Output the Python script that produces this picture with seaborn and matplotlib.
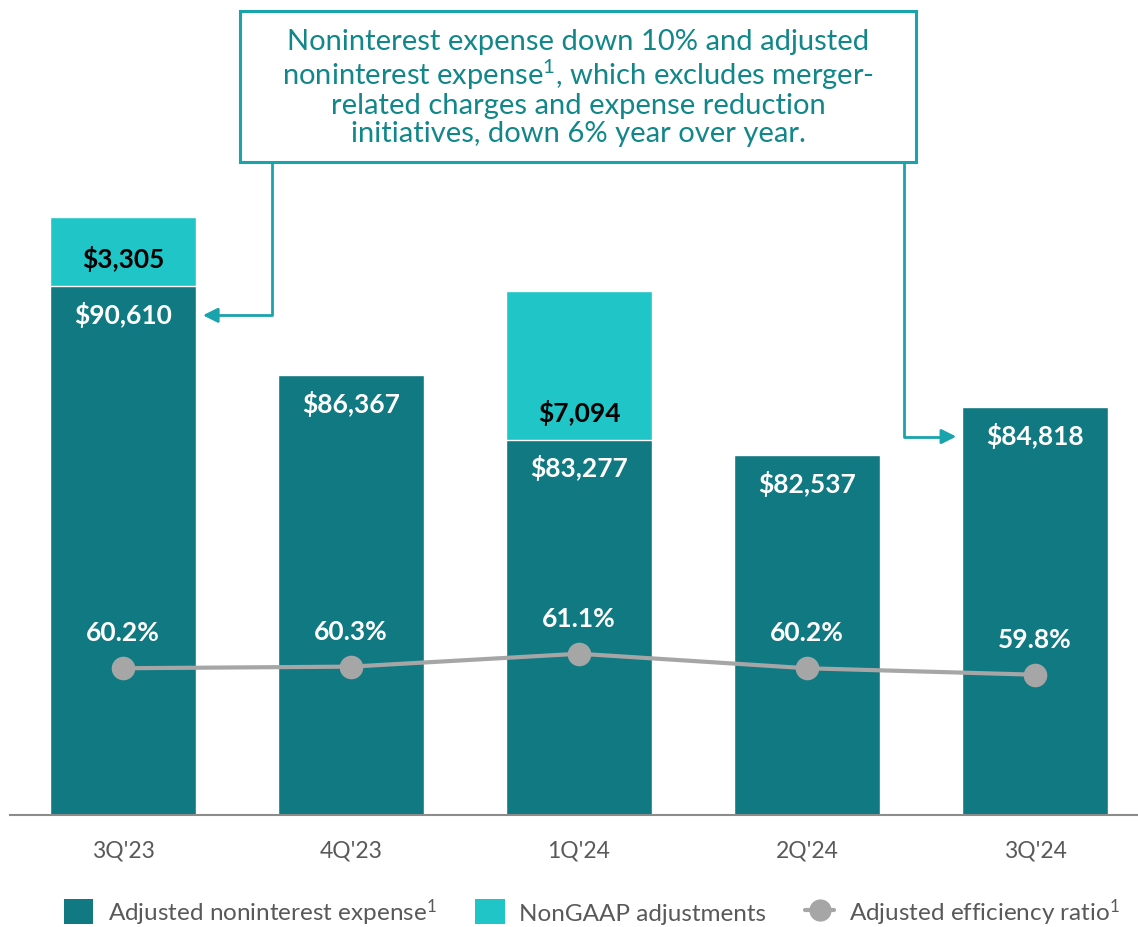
import matplotlib
matplotlib.use("Agg")
import matplotlib.pyplot as plt
import seaborn as sns
import pandas as pd
from matplotlib.patches import Patch, Rectangle
from matplotlib.lines import Line2D

# --- Données ---
quarters = ["3Q'23", "4Q'23", "1Q'24", "2Q'24", "3Q'24"]
adjusted = [90610, 86367, 83277, 82537, 84818]
nongaap = [3305, 0, 7094, 0, 0]
efficiency = [60.2, 60.3, 61.1, 60.2, 59.8]

dark = "#107982"
light = "#1fc5c7"
grey = "#a6a6a6"
txt_grey = "#595959"
box_teal = "#19a4ad"
box_text = "#12878a"

sns.set_theme(style="white")
plt.rcParams['font.family'] = ['Lato', 'DejaVu Sans']
plt.rcParams['mathtext.fontset'] = 'custom'
plt.rcParams['mathtext.rm'] = 'Lato'
plt.rcParams['mathtext.default'] = 'regular'

df = pd.DataFrame({"quarter": quarters, "adjusted": adjusted,
                   "nongaap": nongaap, "eff": efficiency})
df["total"] = df["adjusted"] + df["nongaap"]

fig = plt.figure(figsize=(11.38, 9.28), dpi=100)
ax = fig.add_axes([10 / 1138, 112 / 928, 1128 / 1138, 816 / 928])

sns.barplot(data=df, x="quarter", y="total", color=light, width=0.64,
            saturation=1, ax=ax)
sns.barplot(data=df, x="quarter", y="adjusted", color=dark, width=0.64,
            saturation=1, ax=ax)

ax.set_xlim(-0.496, 4.452)
ax.set_ylim(65340, 104320)
ax.set_yticks([])
ax.set_xlabel("")
ax.set_ylabel("")
for s in ["top", "right", "left"]:
    ax.spines[s].set_visible(False)
ax.spines["bottom"].set_color("#8c8c8c")
ax.spines["bottom"].set_linewidth(1.5)
ax.tick_params(axis="x", length=0, pad=18, labelsize=16.5, labelcolor=txt_grey)

# --- Étiquettes des barres ---
for i, row in df.iterrows():
    ax.annotate(f"${row['adjusted']:,}", (i, row["adjusted"]), xytext=(0, -20),
                textcoords="offset points", ha="center", va="center",
                color="white", fontsize=19, fontweight="bold")
    if row["nongaap"] > 0:
        ax.annotate(f"${row['nongaap']:,}", (i, row["adjusted"]), xytext=(0, 20),
                    textcoords="offset points", ha="center", va="center",
                    color="black", fontsize=19, fontweight="bold")

# --- Ratio d'efficacité ---
ax2 = ax.twinx()
sns.lineplot(data=df, x="quarter", y="eff", color=grey, linewidth=3,
             marker="o", markersize=17, markeredgewidth=0, ax=ax2)
ax2.set_ylim(51.1, 101.7)
ax2.set_yticks([])
ax2.set_ylabel("")
ax2.set_xlabel("")
for s in ax2.spines.values():
    s.set_visible(False)
for i, v in enumerate(efficiency):
    ax2.annotate(f"{v}%", (i, v), xytext=(0, 26), textcoords="offset points",
                 ha="center", va="center", color="white", fontsize=19,
                 fontweight="bold")

# --- Encadré ---
box = Rectangle((240 / 1138, 1 - 163 / 928), 676 / 1138, 151 / 928,
                transform=fig.transFigure, facecolor="white",
                edgecolor=box_teal, linewidth=2.2, zorder=5)
fig.patches.append(box)
fig.text(578 / 1138, 1 - 88 / 928,
         "Noninterest expense down 10% and adjusted\n"
         "noninterest expense$^1$, which excludes merger-\n"
         "related charges and expense reduction\n"
         "initiatives, down 6% year over year.",
         ha="center", va="center", fontsize=21, color=box_text,
         linespacing=1.08, zorder=6)

# --- Flèches ---
lab_off = 1400
y_left = adjusted[0] - lab_off
y_right = adjusted[4] - lab_off
y_box = ax.get_ylim()[0] + (816 - 163) * 47.77
ax.plot([0.654, 0.654, 0.40], [y_box, y_left, y_left], color=box_teal,
        linewidth=2, clip_on=False)
ax.annotate("", xy=(0.338, y_left), xytext=(0.42, y_left),
            arrowprops=dict(arrowstyle="-|>", color=box_teal, lw=2,
                            mutation_scale=22))
ax.plot([3.425, 3.425, 3.60], [y_box, y_right, y_right], color=box_teal,
        linewidth=2, clip_on=False)
ax.annotate("", xy=(3.667, y_right), xytext=(3.58, y_right),
            arrowprops=dict(arrowstyle="-|>", color=box_teal, lw=2,
                            mutation_scale=22))

# --- Légende ---
handles = [Patch(facecolor=dark, edgecolor="none"),
           Patch(facecolor=light, edgecolor="none"),
           Line2D([0], [0], color=grey, linewidth=3, marker="o", markersize=15)]
labels = ["Adjusted noninterest expense$^1$", "NonGAAP adjustments",
          "Adjusted efficiency ratio$^1$"]
fig.legend(handles, labels, loc="center", bbox_to_anchor=(0.52, 1 - 913 / 928),
           ncol=3, frameon=False, fontsize=17.5, labelcolor=txt_grey,
           handlelength=1.2, handleheight=1.2, columnspacing=1.6,
           handletextpad=0.6)

fig.savefig("out.png", dpi=100)
